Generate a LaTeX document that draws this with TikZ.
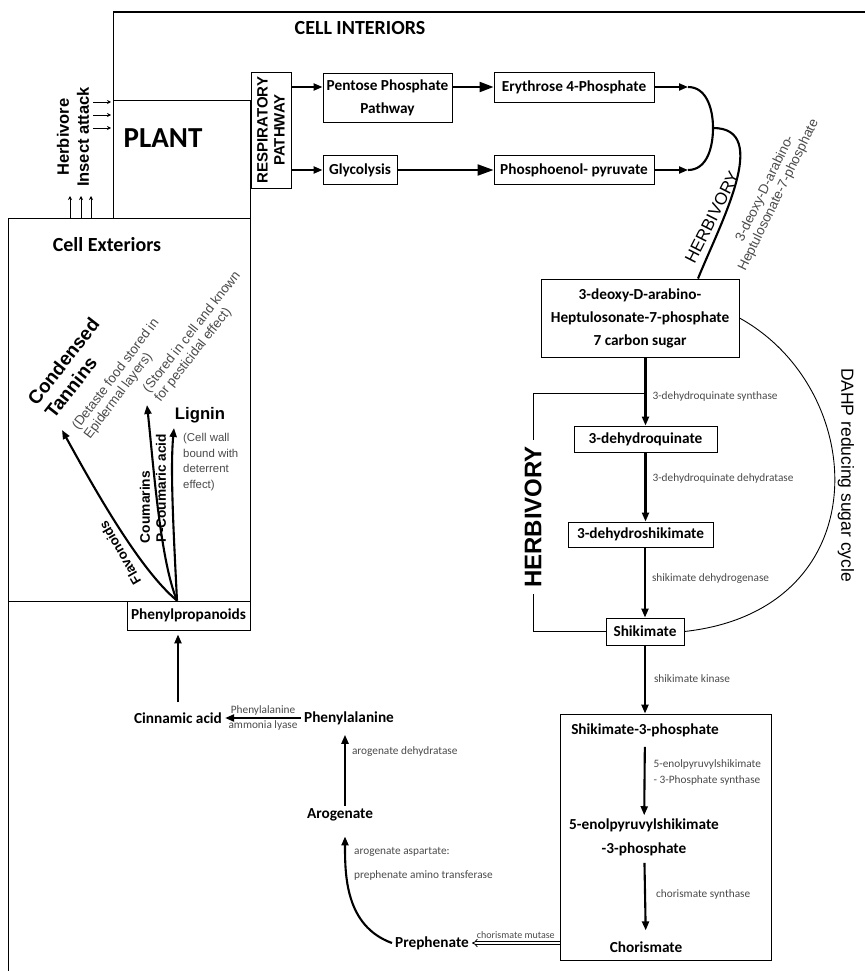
\documentclass[tikz,border=0pt]{standalone}
\usepackage{fontspec}
\setmainfont{Carlito}
\newfontfamily\arial{Liberation Sans}
\usetikzlibrary{arrows.meta}
\definecolor{notegray}{HTML}{4A4A4A}

\begin{document}
\begin{tikzpicture}[x=1pt, y=-1pt, >={Triangle[length=9pt,width=7pt]},
  box/.style={rectangle, draw, line width=0.9pt, inner sep=1pt, align=center, font=\bfseries\fontsize{15.3}{23}\selectfont},
  chem/.style={inner sep=3pt, align=center, font=\bfseries\fontsize{15.3}{24}\selectfont},
  enz/.style={inner sep=2pt, text=notegray, font=\fontsize{11.3}{13}\selectfont},
  note/.style={inner sep=0pt, text=notegray, font=\arial\fontsize{13.3}{15}\selectfont},
  heavy/.style={line width=2.1pt},
  frame/.style={line width=0.9pt},
  tick/.style={->, >={Stealth[length=4pt,width=4pt]}, line width=0.8pt}]
  \useasboundingbox (0,0) rectangle (865,971);

  % Frame
  \draw[line width=1.6pt] (113,12) -- (865,12);
  \draw[frame] (113,12) -- (113,100);
  \draw[frame] (113,100) rectangle (250,218);
  \draw[frame] (8,218) rectangle (250,601);
  \draw[frame] (8,601) -- (8,971);

  % Nodes
  \node (interior) [font=\bfseries\fontsize{20}{20}\selectfont] at (360,28) {CELL INTERIORS};
  \node (plant) [font=\bfseries\fontsize{29}{29}\selectfont] at (163,138) {PLANT};
  \node (exterior) [font=\bfseries\fontsize{20}{20}\selectfont] at (107,245) {Cell Exteriors};
  \node (attack) [rotate=90, align=center, font=\arial\bfseries\fontsize{16.5}{20}\selectfont] at (73,137) {Herbivore\\Insect attack};
  \node (resp) [box, rotate=90, minimum width=116pt, minimum height=40pt, font=\arial\bfseries\fontsize{15}{17}\selectfont] at (271,130) {RESPIRATORY\\PATHWAY};
  \node (pent) [box, minimum width=129pt, minimum height=49pt] at (387.5,97.5) {Pentose Phosphate\\Pathway};
  \node (ery) [box, minimum width=160pt, minimum height=30pt] at (574,87) {Erythrose 4-Phosphate};
  \node (glyc) [box, minimum width=74pt, minimum height=29pt] at (360,170) {Glycolysis};
  \node (phos) [box, minimum width=160pt, minimum height=29pt] at (574,170) {Phosphoenol- pyruvate};
  \node (dahp) [box, minimum width=198pt, minimum height=78pt] at (640,318) {3-deoxy-D-arabino-\\Heptulosonate-7-phosphate\\7 carbon sugar};
  \node (dhq) [box, minimum width=143pt, minimum height=26pt] at (645.5,439) {3-dehydroquinate};
  \node (dhs) [box, minimum width=145pt, minimum height=25pt] at (640.5,534.5) {3-dehydroshikimate};
  \node (shik) [box, minimum width=78pt, minimum height=27pt] at (645,631.5) {Shikimate};
  \node (s3pbox) [rectangle, draw, line width=0.9pt, minimum width=211pt, minimum height=246pt] at (665.5,837) {};
  \node (s3p) [chem] at (645,730) {Shikimate-3-phosphate};
  \node (epsp) [chem] at (644,837) {5-enolpyruvylshikimate\\-3-phosphate};
  \node (chor) [chem] at (646,947) {Chorismate};
  \node (preph) [chem] at (432,943) {Prephenate};
  \node (arog) [chem] at (340,815) {Arogenate};
  \node (phe) [chem] at (349,718) {Phenylalanine};
  \node (cinn) [chem] at (178,718) {Cinnamic acid};
  \node (phprop) [box, minimum width=123pt, minimum height=29pt] at (188.5,615.5) {Phenylpropanoids};
  \node (herbLeft) [rotate=90, inner sep=6pt, font=\arial\bfseries\fontsize{24}{24}\selectfont] at (533,517) {HERBIVORY};
  \node (herbCurve) [rotate=63, font=\arial\fontsize{17}{17}\selectfont] at (712,217) {HERBIVORY};
  \node (dahpName) [note, rotate=64, align=center, font=\arial\fontsize{13.5}{15}\selectfont] at (772,192) {3-deoxy-D-arabino-\\Heptulosonate-7-phosphate};
  \node (cycle) [rotate=-90, font=\arial\fontsize{17.5}{17.5}\selectfont] at (846,475) {DAHP reducing sugar cycle};
  \node (tannin) [rotate=52, align=left, font=\arial\bfseries\fontsize{19}{22}\selectfont] at (72,368) {Condensed\\Tannins};
  \node (tanninNote) [note, rotate=53, align=left] at (122,379) {(Detaste food stored in\\Epidermal layers)};
  \node (coumNote) [note, rotate=52, align=left] at (198,337) {(Stored in cell and known\\for pesticidal effect)};
  \node (lignin) [font=\arial\bfseries\fontsize{16.7}{17}\selectfont] at (200,415) {Lignin};
  \node (ligninNote) [note, anchor=north west, align=left, font=\arial\fontsize{11.4}{15.7}\selectfont] at (183,433) {(Cell wall\\bound with\\deterrent\\effect)};
  \node (flavLbl) [rotate=120, font=\arial\bfseries\fontsize{13.3}{14}\selectfont] at (120,553) {Flavonoids};
  \node (coumLbl) [rotate=90, font=\arial\bfseries\fontsize{13.8}{14}\selectfont] at (145,507) {Coumarins};
  \node (pcoumLbl) [rotate=90, font=\arial\bfseries\fontsize{13.7}{14}\selectfont] at (161,488) {P-Coumaric acid};
  \node (transLbl) [enz, align=left, font=\fontsize{11.3}{24}\selectfont] at (352,864) [anchor=west] {arogenate aspartate:\\prephenate amino transferase};

  % Coordinates
  \coordinate (eryIn) at (688,87);
  \coordinate (phosIn) at (688,170);
  \coordinate (join) at (713,128);
  \coordinate (tapDAHP) at (645,393);
  \coordinate (fork) at ([xshift=-11.5pt]phprop.north);
  \coordinate (tanninTip) at (62,430);
  \coordinate (coumTip) at (147,405);
  \coordinate (ligTip) at (174,428);

  % Arrow
  \foreach \y in {102,115,128} \draw[tick] (93,\y) -- (111,\y);
  \foreach \x in {70,81,91} \draw[tick] (\x,218) -- (\x,196);
  \draw[->, heavy] (resp.south |- ery) -- (pent.west |- ery);
  \draw[-{Triangle[length=14pt,width=10pt]}, heavy] (pent.east |- ery) -- (ery.west);
  \draw[->, heavy] (resp.south |- glyc) -- (glyc.west);
  \draw[-{Triangle[length=16pt,width=11pt]}, heavy] (glyc) -- (phos);
  \draw[->, heavy] (ery) -- (eryIn);
  \draw[->, heavy] (phos) -- (phosIn);
  \draw[heavy] (eryIn) to[out=0, in=90] (join) to[out=-90, in=0] (phosIn);
  \draw[heavy] (join) to[out=0, in=68] ([xshift=58pt]dahp.north);
  \draw[frame] (dahp.east) .. controls (870,390) and (880,610) .. (shik.east);
  \draw[->, heavy] (dahp.south -| dhq) -- node[enz, pos=0.58, right=4pt] {3-dehydroquinate synthase} (dhq.north);
  \draw[->, heavy] (dhq.south) -- node[enz, pos=0.37, right=4pt] {3-dehydroquinate dehydratase} (dhq.south |- dhs.north);
  \draw[->, heavy] (dhs.south -| shik) -- node[enz, pos=0.44, right=4pt] {shikimate dehydrogenase} (shik.north);
  \draw[->, heavy] (shik.south) -- node[enz, pos=0.49, right=6pt] {shikimate kinase} (shik.south |- s3pbox.north);
  \draw[->, heavy, shorten <=7pt] (s3p) -- node[enz, pos=0.44, right=6pt, align=left, font=\fontsize{11.3}{16}\selectfont] {5-enolpyruvylshikimate\\- 3-Phosphate synthase} (epsp);
  \draw[->, heavy, shorten <=4pt, shorten >=8pt] (epsp) -- node[enz, pos=0.45, right=8pt] {chorismate synthase} (chor);
  \draw[frame] (herbLeft.east) |- (tapDAHP);
  \draw[frame] (herbLeft.west) |- (shik.west);
  \draw[-{Implies}, double, double distance=2pt, line width=0.8pt] (s3pbox.west |- preph) -- node[enz, above=2pt, font=\fontsize{10}{12}\selectfont] {chorismate mutase} (preph.east);
  \draw[->, heavy, shorten >=12pt] (preph.west) to[out=160, in=-90] ([xshift=5pt]arog.south);
  \draw[->, heavy, shorten >=7pt] ([xshift=5pt]arog.north) -- node[enz, pos=0.7, right=4pt] {arogenate dehydratase} ([xshift=5pt]arog.north |- phe.south);
  \draw[->, heavy] (phe.west) -- node[enz, above] {Phenylalanine} node[enz, below] {ammonia lyase} (cinn.east);
  \draw[->, heavy, shorten <=7pt, shorten >=4pt] (cinn.north) -- (cinn.north |- phprop.south);
  \draw[->, heavy] (fork) .. controls (140,570) and (95,490) .. (tanninTip);
  \draw[->, heavy] (fork) .. controls (160,560) and (153,460) .. (coumTip);
  \draw[->, heavy] (fork) .. controls (174,540) and (170,470) .. (ligTip);
\end{tikzpicture}
\end{document}
